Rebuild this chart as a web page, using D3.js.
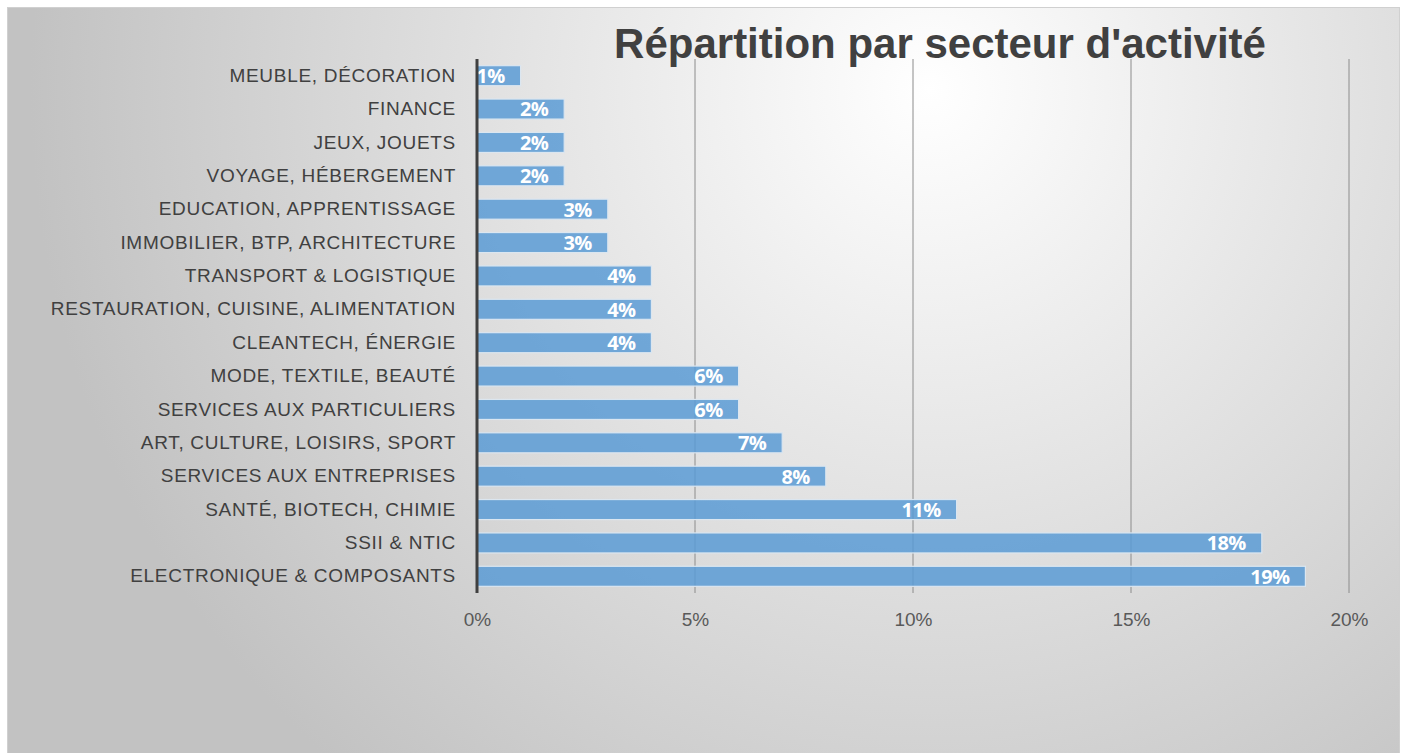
<!DOCTYPE html>
<html>
<head>
<meta charset="utf-8">
<script src="https://cdn.jsdelivr.net/npm/d3@7"></script>
<style>
  html, body { margin: 0; padding: 0; background: #fff; }
  svg { display: block; }
</style>
</head>
<body>
<svg id="chart" width="1407" height="753"></svg>
<script>
// data, top to bottom as shown
var categories = [
  'MEUBLE, DÉCORATION', 'FINANCE', 'JEUX, JOUETS', 'VOYAGE, HÉBERGEMENT',
  'EDUCATION, APPRENTISSAGE', 'IMMOBILIER, BTP, ARCHITECTURE', 'TRANSPORT & LOGISTIQUE',
  'RESTAURATION, CUISINE, ALIMENTATION', 'CLEANTECH, ÉNERGIE', 'MODE, TEXTILE, BEAUTÉ',
  'SERVICES AUX PARTICULIERS', 'ART, CULTURE, LOISIRS, SPORT', 'SERVICES AUX ENTREPRISES',
  'SANTÉ, BIOTECH, CHIMIE', 'SSII & NTIC', 'ELECTRONIQUE & COMPOSANTS'
];
var shares = [1, 2, 2, 2, 3, 3, 4, 4, 4, 6, 6, 7, 8, 11, 18, 19];
var xTicks = [0, 5, 10, 15, 20];
var title = "Répartition par secteur d'activité";

var W = 1407, H = 753;
var svg = d3.select('#chart');
var defs = svg.append('defs');
var grad = defs.append('radialGradient').attr('id', 'bg')
  .attr('gradientUnits', 'userSpaceOnUse')
  .attr('cx', 930).attr('cy', 90).attr('r', 900);
grad.append('stop').attr('offset', '0%').attr('stop-color', '#ffffff');
grad.append('stop').attr('offset', '100%').attr('stop-color', '#c2c2c2');

svg.append('rect').attr('x', 7.5).attr('y', 7.5).attr('width', W - 15).attr('height', H - 7)
  .attr('fill', 'url(#bg)').attr('stroke', '#d0d0d0').attr('stroke-width', 1);

var m = { left: 477, right: 1349, top: 59, bottom: 593 };
var x = d3.scaleLinear().domain([0, 20]).range([m.left, m.right]);
var y = d3.scaleBand().domain(categories).range([m.top, m.bottom]).paddingInner(0.4).paddingOuter(0.2);

// gridlines
svg.append('g').selectAll('line').data(xTicks.slice(1)).join('line')
  .attr('x1', function(d) { return x(d); }).attr('x2', function(d) { return x(d); })
  .attr('y1', m.top).attr('y2', m.bottom)
  .attr('stroke', '#8c8c8c').attr('stroke-width', 1);

// bars
svg.append('g').selectAll('rect').data(categories).join('rect')
  .attr('x', x(0))
  .attr('y', function(d) { return y(d); })
  .attr('width', function(d, i) { return x(shares[i]) - x(0); })
  .attr('height', y.bandwidth())
  .attr('fill', '#5b9bd5').attr('fill-opacity', 0.85)
  .attr('stroke', '#dbe6f0').attr('stroke-width', 1.2);

// bar labels
svg.append('g').selectAll('text').data(categories).join('text')
  .attr('x', function(d, i) { return x(shares[i]) - 16; })
  .attr('y', function(d) { return y(d) + y.bandwidth() / 2; })
  .attr('dy', '0.37em')
  .attr('text-anchor', 'end')
  .attr('font-family', '"Open Sans", sans-serif')
  .attr('font-weight', 'bold').attr('font-size', 20).attr('letter-spacing', -0.6)
  .attr('fill', '#ffffff')
  .text(function(d, i) { return shares[i] + '%'; });

// y axis
var yAxis = svg.append('g').attr('transform', 'translate(' + x(0) + ',0)')
  .call(d3.axisLeft(y).tickSize(0).tickPadding(21));
yAxis.select('.domain').attr('stroke', '#404040').attr('stroke-width', 3)
  .attr('d', 'M0,' + m.top + 'V' + m.bottom);
yAxis.selectAll('text')
  .attr('font-family', '"Liberation Sans", sans-serif')
  .attr('font-size', 19).attr('letter-spacing', 0.7).attr('fill', '#404040');

// x axis labels
var xAxis = svg.append('g').attr('transform', 'translate(0,' + m.bottom + ')')
  .call(d3.axisBottom(x).tickValues(xTicks).tickSize(0).tickPadding(20)
    .tickFormat(function(d) { return d + '%'; }));
xAxis.select('.domain').remove();
xAxis.selectAll('text')
  .attr('font-family', '"Liberation Sans", sans-serif')
  .attr('font-size', 19).attr('fill', '#595959');

// title
svg.append('text').attr('x', 940).attr('y', 58).attr('text-anchor', 'middle')
  .attr('font-family', '"Liberation Sans", sans-serif')
  .attr('font-weight', 'bold').attr('font-size', 42).attr('fill', '#404040')
  .text(title);
</script>
</body>
</html>
